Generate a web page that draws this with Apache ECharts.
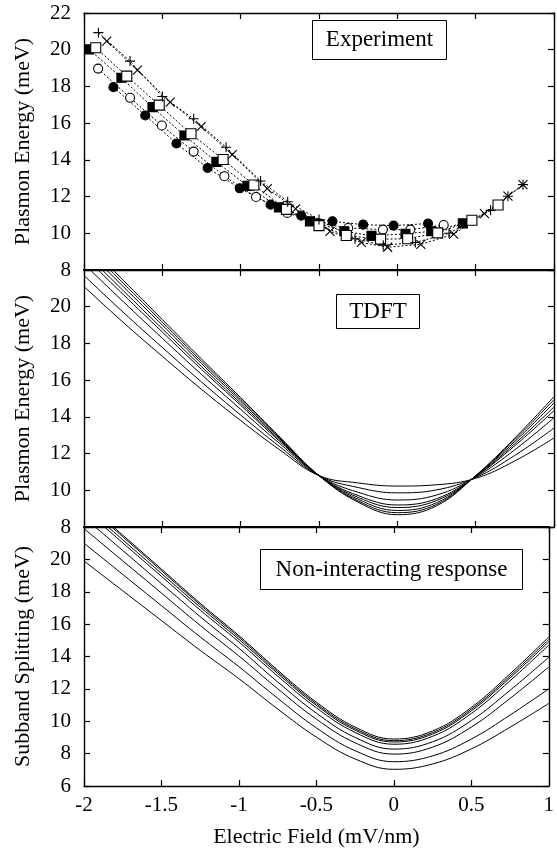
<!DOCTYPE html>
<html>
<head>
<meta charset="utf-8">
<script src="https://cdn.jsdelivr.net/npm/echarts@6/dist/echarts.min.js"></script>
<style>
html,body{margin:0;padding:0;background:#fff;}
#chart{width:557px;height:856px;}
</style>
</head>
<body>
<div id="chart"></div>
<script>
// ---------------- DATA ----------------
// Panel 1: experiment (electric field, plasmon energy)
const expFilledCircleX = [-1.812, -1.609, -1.41, -1.211, -1.006, -0.809, -0.613, -0.414, -0.218, -0.024, 0.196];
const expFilledCircleY = [17.96, 16.42, 14.89, 13.56, 12.45, 11.56, 10.96, 10.65, 10.47, 10.42, 10.53];
const expOpenCircleX = [-1.91, -1.706, -1.503, -1.30, -1.104, -0.902, -0.702, -0.505, -0.314, -0.092, 0.083, 0.296];
const expOpenCircleY = [18.97, 17.38, 15.87, 14.45, 13.11, 11.98, 11.11, 10.55, 10.29, 10.2, 10.2, 10.45];
const expFilledSquareX = [-1.967, -1.761, -1.563, -1.359, -1.155, -0.957, -0.756, -0.558, -0.338, -0.165, 0.052, 0.217, 0.418];
const expFilledSquareY = [20.02, 18.47, 16.87, 15.33, 13.89, 12.58, 11.41, 10.65, 10.11, 9.86, 9.97, 10.11, 10.54];
const expOpenSquareX = [-1.925, -1.727, -1.52, -1.317, -1.112, -0.916, -0.708, -0.5, -0.326, -0.107, 0.066, 0.258, 0.476, 0.643];
const expOpenSquareY = [20.11, 18.56, 16.98, 15.42, 14.02, 12.63, 11.3, 10.42, 9.88, 9.68, 9.7, 10.02, 10.71, 11.54];
const expPlusX = [-1.908, -1.706, -1.5, -1.3, -1.093, -0.873, -0.70, -0.50, -0.27, -0.09, 0.115, 0.33, 0.595, 0.706, 0.802];
const expPlusY = [20.93, 19.38, 17.45, 16.24, 14.69, 12.85, 11.72, 10.75, 9.7, 9.35, 9.5, 10.0, 11.25, 12.02, 12.65];
const expCrossX = [-1.855, -1.659, -1.45, -1.253, -1.054, -0.83, -0.649, -0.43, -0.23, -0.062, 0.15, 0.36, 0.556, 0.706, 0.802];
const expCrossY = [20.47, 18.89, 17.15, 15.81, 14.29, 12.43, 11.33, 10.11, 9.5, 9.24, 9.4, 9.95, 11.07, 12.02, 12.65];

// Panels 2 and 3: theory curves sampled on a common field grid
const field = [-2, -1.75, -1.5, -1.25, -1, -0.75, -0.5, -0.25, 0, 0.25, 0.5, 0.75, 1];

const tdft1 = [23.6, 21.45, 19.3, 17.15, 15.05, 12.9, 10.8, 9.35, 8.67, 9.15, 10.8, 12.85, 15.1];
const tdft2 = [23.43, 21.29, 19.16, 17.03, 14.96, 12.85, 10.8, 9.42, 8.78, 9.23, 10.79, 12.76, 14.94];
const tdft3 = [23.23, 21.1, 19.0, 16.9, 14.86, 12.8, 10.8, 9.51, 8.9, 9.32, 10.78, 12.66, 14.76];
const tdft4 = [22.98, 20.88, 18.8, 16.74, 14.74, 12.73, 10.8, 9.61, 9.06, 9.44, 10.76, 12.54, 14.54];
const tdft5 = [22.75, 20.67, 18.62, 16.59, 14.63, 12.66, 10.8, 9.71, 9.2, 9.54, 10.75, 12.43, 14.34];
const tdft6 = [22.33, 20.28, 18.28, 16.31, 14.41, 12.54, 10.8, 9.89, 9.47, 9.74, 10.72, 12.21, 13.95];
const tdft7 = [21.7, 19.7, 17.78, 15.9, 14.1, 12.37, 10.8, 10.15, 9.86, 10.02, 10.69, 11.9, 13.39];
const tdft8 = [21.1, 19.15, 17.3, 15.5, 13.8, 12.2, 10.8, 10.4, 10.23, 10.3, 10.65, 11.6, 12.85];

const nonint1 = [23.6, 21.5, 19.4, 17.29, 15.29, 13.16, 11.18, 9.64, 8.9, 9.4, 10.85, 12.93, 15.2];
const nonint2 = [23.5, 21.4, 19.3, 17.19, 15.19, 13.06, 11.08, 9.54, 8.8, 9.3, 10.74, 12.8, 15.05];
const nonint3 = [23.3, 21.21, 19.13, 17.05, 15.06, 12.95, 10.98, 9.45, 8.72, 9.21, 10.64, 12.68, 14.9];
const nonint4 = [23.1, 21.02, 18.95, 16.87, 14.9, 12.79, 10.83, 9.31, 8.58, 9.07, 10.48, 12.5, 14.7];
const nonint5 = [22.6, 20.55, 18.5, 16.46, 14.51, 12.43, 10.5, 9.0, 8.28, 8.73, 10.04, 11.91, 13.95];
const nonint6 = [21.9, 19.91, 17.92, 15.92, 14.03, 12.01, 10.13, 8.67, 7.97, 8.4, 9.64, 11.41, 13.35];
const nonint7 = [21.0, 19.07, 17.14, 15.21, 13.37, 11.42, 9.59, 8.18, 7.5, 7.86, 8.9, 10.38, 12.0];
const nonint8 = [19.9, 18.06, 16.22, 14.38, 12.63, 10.76, 9.02, 7.67, 7.03, 7.36, 8.29, 9.63, 11.1];

const xTicks = { min: -2, max: 1, interval: 0.5 };
const panelY = [
  { min: 8, max: 22, interval: 2, name: 'Plasmon Energy (meV)', label: 'Experiment' },
  { min: 8, max: 22, interval: 2, name: 'Plasmon Energy (meV)', label: 'TDFT' },
  { min: 6, max: 22, interval: 2, name: 'Subband Splitting (meV)', label: 'Non-interacting response' }
];

// ---------------- CHART ----------------
const FONT = 'Liberation Serif';
const chart = echarts.init(document.getElementById('chart'), null, { renderer: 'canvas' });

const grids = [
  { left: 84, right: 3, top: 13, height: 257 },
  { left: 84, right: 3, top: 270, height: 257 },
  { left: 84, right: 3, top: 527, height: 259 }
];

const xAxes = [], yAxes = [];
grids.forEach((g, i) => {
  const isBottom = i === 2;
  xAxes.push({
    type: 'value', gridIndex: i, position: 'bottom', min: xTicks.min, max: xTicks.max, interval: xTicks.interval,
    axisLine: { show: true, onZero: false, lineStyle: { color: '#000', width: 1.4 } },
    axisTick: { show: true, inside: true, length: 6, lineStyle: { color: '#000', width: 1.2 } },
    axisLabel: { show: isBottom, color: '#000', fontFamily: FONT, fontSize: 21, margin: 9 },
    splitLine: { show: false },
    name: isBottom ? 'Electric Field (mV/nm)' : '', nameLocation: 'middle', nameGap: 40,
    nameTextStyle: { color: '#000', fontFamily: FONT, fontSize: 22 }
  });
  xAxes.push({
    type: 'value', gridIndex: i, position: 'top', min: xTicks.min, max: xTicks.max, interval: xTicks.interval,
    axisLine: { show: true, onZero: false, lineStyle: { color: '#000', width: i === 0 ? 1.4 : 2.2 } },
    axisTick: { show: true, inside: true, length: 6, lineStyle: { color: '#000', width: 1.2 } },
    axisLabel: { show: false }, splitLine: { show: false }
  });
  const p = panelY[i];
  yAxes.push({
    type: 'value', gridIndex: i, position: 'left', min: p.min, max: p.max, interval: p.interval,
    axisLine: { show: true, onZero: false, lineStyle: { color: '#000', width: 1.4 } },
    axisTick: { show: true, inside: true, length: 6, lineStyle: { color: '#000', width: 1.2 } },
    axisLabel: { show: true, color: '#000', fontFamily: FONT, fontSize: 21, margin: 13, showMaxLabel: i === 0 },
    splitLine: { show: false },
    name: p.name, nameLocation: 'middle', nameGap: 50, nameRotate: 90,
    nameTextStyle: { color: '#000', fontFamily: FONT, fontSize: 22 }
  });
  yAxes.push({
    type: 'value', gridIndex: i, position: 'right', min: p.min, max: p.max, interval: p.interval,
    axisLine: { show: true, onZero: false, lineStyle: { color: '#000', width: 1.4 } },
    axisTick: { show: true, inside: true, length: 6, lineStyle: { color: '#000', width: 1.2 } },
    axisLabel: { show: false }, splitLine: { show: false }
  });
});

const zip = (xs, ys) => xs.map((x, k) => [x, ys[k]]);

const PLUS = 'path://M5,0L5,10M0,5L10,5';
const CROSS = 'path://M0,0L10,10M10,0L0,10';

function expSeries(name, xs, ys, symbol, size, filled) {
  return {
    type: 'line', name, xAxisIndex: 0, yAxisIndex: 0,
    data: zip(xs, ys), symbol, symbolSize: size, showSymbol: true,
    lineStyle: { color: '#000', width: 1, type: [2, 2] },
    itemStyle: { color: filled ? '#000' : '#fff', borderColor: '#000', borderWidth: 1.1 },
    z: 3, animation: false
  };
}

const series = [
  expSeries('filled circle', expFilledCircleX, expFilledCircleY, 'circle', 9, true),
  expSeries('open circle', expOpenCircleX, expOpenCircleY, 'circle', 9, false),
  expSeries('filled square', expFilledSquareX, expFilledSquareY, 'rect', 9, true),
  expSeries('open square', expOpenSquareX, expOpenSquareY, 'rect', 10, false),
  expSeries('plus', expPlusX, expPlusY, PLUS, 10, true),
  expSeries('cross', expCrossX, expCrossY, CROSS, 9, true)
];

function theory(data, gi) {
  return {
    type: 'line', xAxisIndex: gi * 2, yAxisIndex: gi * 2,
    data: zip(field, data), showSymbol: false, symbol: 'none', smooth: 0.4, clip: true,
    lineStyle: { color: '#000', width: 1 }, animation: false
  };
}
[tdft1, tdft2, tdft3, tdft4, tdft5, tdft6, tdft7, tdft8].forEach(d => series.push(theory(d, 1)));
[nonint1, nonint2, nonint3, nonint4, nonint5, nonint6, nonint7, nonint8].forEach(d => series.push(theory(d, 2)));

function box(x, y, w, h, text) {
  return {
    type: 'group', left: x, top: y,
    children: [
      { type: 'rect', shape: { x: 0, y: 0, width: w, height: h }, style: { fill: '#fff', stroke: '#000', lineWidth: 1 } },
      { type: 'text', x: w / 2, y: h / 2, style: { text, fill: '#000', font: '23px "Liberation Serif"', textAlign: 'center', textVerticalAlign: 'middle' } }
    ],
    z: 10
  };
}

chart.setOption({
  backgroundColor: '#fff',
  animation: false,
  grid: grids,
  xAxis: xAxes,
  yAxis: yAxes,
  series,
  graphic: [
    box(312, 20, 134, 39, panelY[0].label),
    box(336, 294, 83, 34, panelY[1].label),
    box(260, 549, 262, 40, panelY[2].label)
  ]
});
</script>
</body>
</html>
